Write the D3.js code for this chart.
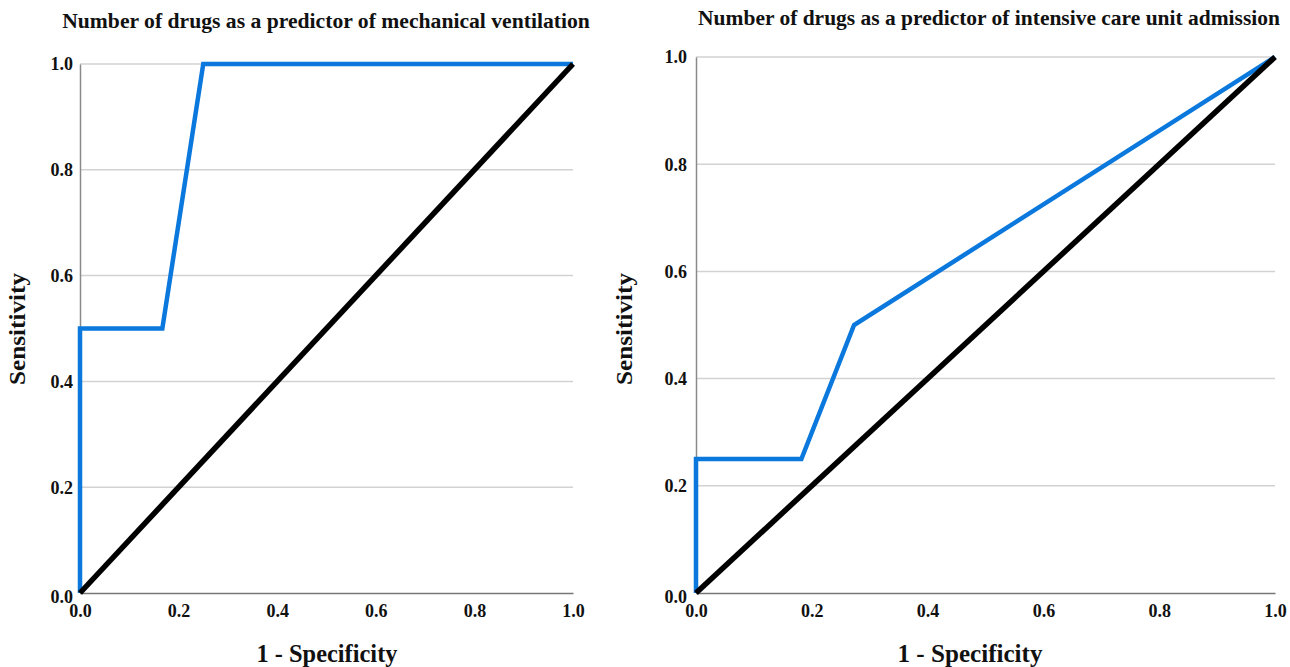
<!DOCTYPE html>
<html>
<head>
<meta charset="utf-8">
<script src="https://cdn.jsdelivr.net/npm/d3@7"></script>
<style>
  body { margin: 0; background: #fff; }
  text { font-family: "Liberation Serif", "Times New Roman", serif; font-weight: bold; fill: #111; }
</style>
</head>
<body>
<div id="chart"></div>
<script>
// ROC curves
var ticks = [0, 0.2, 0.4, 0.6, 0.8, 1.0];
var titles = ['Number of drugs as a predictor of mechanical ventilation',
              'Number of drugs as a predictor of intensive care unit admission'];
var xTitle = '1 - Specificity';
var yTitle = 'Sensitivity';

var ventFpr = [0, 0, 0.167, 0.25, 1];
var ventTpr = [0, 0.5, 0.5, 1, 1];
var icuFpr = [0, 0, 0.182, 0.273, 1];
var icuTpr = [0, 0.25, 0.25, 0.5, 1];
var refLine = [0, 1];

var width = 1290, height = 667;

var svg = d3.select('#chart')
  .append('svg')
  .attr('width', width)
  .attr('height', height);

// panel boxes
var panels = [
  { x0: 80, x1: 573, y0: 593, y1: 64, title: titles[0], titleX: 326, titleY: 28, titleW: 528,
    xtX: 327, xtW: 141, ytX: 25, fpr: ventFpr, tpr: ventTpr, pad: 7 },
  { x0: 696, x1: 1275, y0: 593, y1: 57, title: titles[1], titleX: 989, titleY: 25, titleW: 582,
    xtX: 970, xtW: 145, ytX: 632, fpr: icuFpr, tpr: icuTpr, pad: 9 }
];

// squeeze a centred text horizontally to a given width (the source glyphs are condensed)
function squeeze(sel, cx, cy, w, rot) {
  var n = sel.node().getComputedTextLength();
  var s = w / n;
  sel.attr('x', 0).attr('y', 0)
    .attr('transform', 'translate(' + cx + ',' + cy + ')' + (rot ? ' rotate(' + rot + ')' : '') + ' scale(' + s + ',1)');
}

panels.forEach(function(p) {
  var x = d3.scaleLinear().domain([0, 1]).range([p.x0, p.x1]);
  var y = d3.scaleLinear().domain([0, 1]).range([p.y0, p.y1]);
  var g = svg.append('g');

  // gridlines
  g.selectAll('.grid')
    .data(ticks.slice(1))
    .enter()
    .append('line')
    .attr('x1', x(0)).attr('x2', x(1))
    .attr('y1', function(d) { return y(d); })
    .attr('y2', function(d) { return y(d); })
    .attr('stroke', '#d2d2d2')
    .attr('stroke-width', 1.5);

  // y axis
  var yAxis = g.append('g')
    .attr('transform', 'translate(' + x(0) + ',0)')
    .call(d3.axisLeft(y).tickValues(ticks).tickFormat(d3.format('.1f')).tickSize(0).tickPadding(p.pad));
  yAxis.select('.domain').attr('stroke', '#8a8a8a').attr('stroke-width', 1.5);
  yAxis.selectAll('text')
    .style('font-size', '18px')
    .attr('dy', function(d) { return d === 0 ? '0.55em' : '0.33em'; });

  // x axis
  var xAxis = g.append('g')
    .attr('transform', 'translate(0,' + y(0) + ')')
    .call(d3.axisBottom(x).tickValues(ticks).tickFormat(d3.format('.1f')).tickSize(0).tickPadding(11));
  xAxis.select('.domain').attr('stroke', '#777').attr('stroke-width', 1.5);
  xAxis.selectAll('text').style('font-size', '18px');

  var line = d3.line()
    .x(function(d) { return x(d[0]); })
    .y(function(d) { return y(d[1]); });

  g.append('path')
    .datum(d3.zip(p.fpr, p.tpr))
    .attr('d', line)
    .attr('fill', 'none')
    .attr('stroke', '#0a78dc')
    .attr('stroke-width', 4.5);

  g.append('path')
    .datum(d3.zip(refLine, refLine))
    .attr('d', line)
    .attr('fill', 'none')
    .attr('stroke', '#000')
    .attr('stroke-width', 5.5);

  // titles
  var title = g.append('text')
    .attr('text-anchor', 'middle')
    .style('font-size', '22px')
    .text(p.title);
  squeeze(title, p.titleX, p.titleY, p.titleW);

  var xt = g.append('text')
    .attr('text-anchor', 'middle')
    .style('font-size', '26px')
    .text(xTitle);
  squeeze(xt, p.xtX, 662, p.xtW);

  var yt = g.append('text')
    .attr('text-anchor', 'middle')
    .style('font-size', '24px')
    .text(yTitle);
  squeeze(yt, p.ytX, 329, 112, -90);
});
</script>
</body>
</html>
